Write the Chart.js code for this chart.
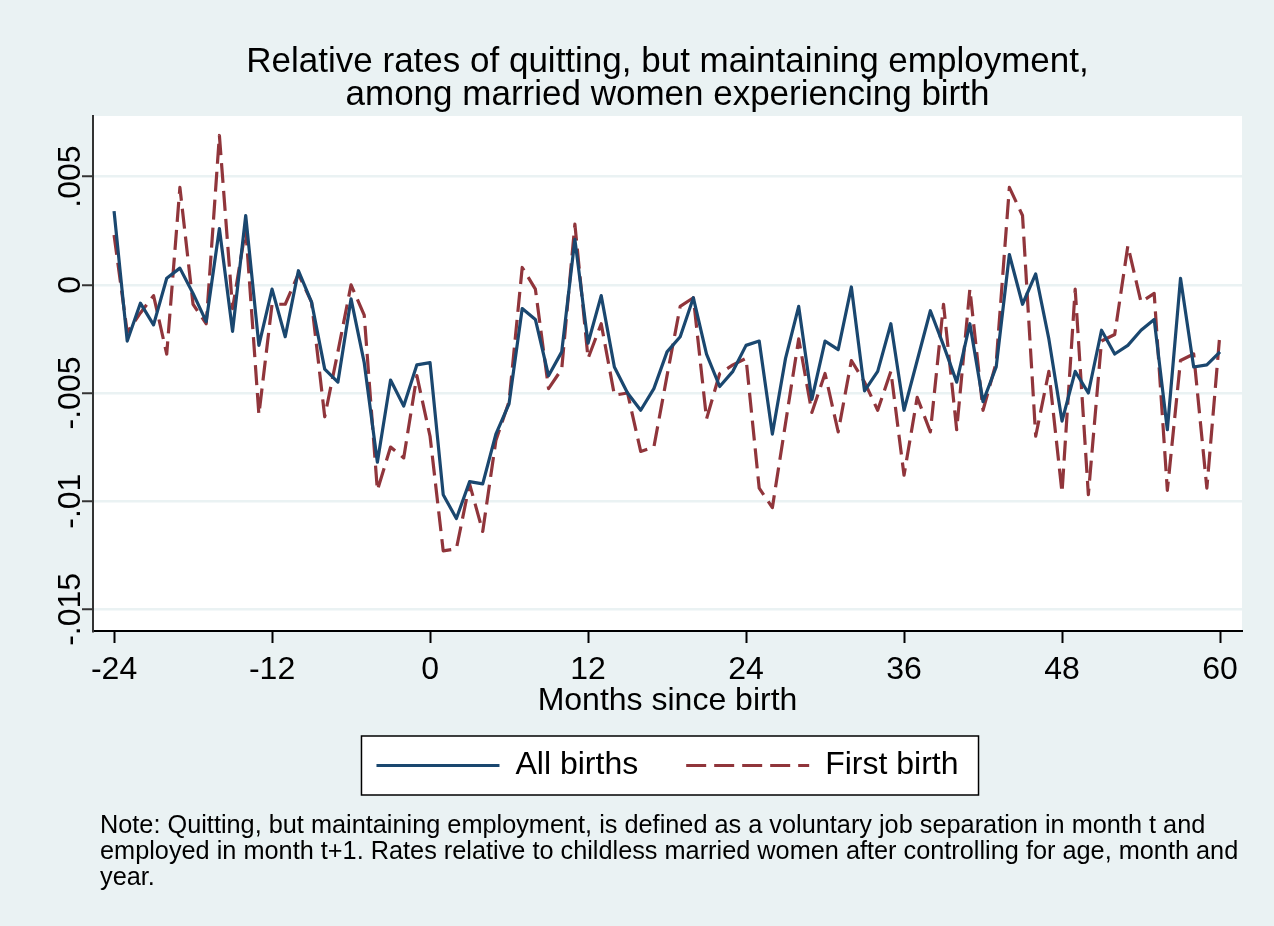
<!DOCTYPE html>
<html>
<head>
<meta charset="utf-8">
<script src="https://cdn.jsdelivr.net/npm/chart.js@4.4.1/dist/chart.umd.min.js"></script>
<style>
html,body{margin:0;padding:0;background:#EAF2F3;}
#wrap{width:1274px;height:926px;position:relative;}
canvas{display:block;}
</style>
</head>
<body>
<div id="wrap"><canvas id="c" width="1274" height="926"></canvas></div>
<script>
// ---- data ----
const months = [-24,-23,-22,-21,-20,-19,-18,-17,-16,-15,-14,-13,-12,-11,-10,-9,-8,-7,-6,-5,-4,-3,-2,-1,
  0,1,2,3,4,5,6,7,8,9,10,11,12,13,14,15,16,17,18,19,20,21,22,23,24,25,26,27,28,29,30,31,32,33,34,35,36,
  37,38,39,40,41,42,43,44,45,46,47,48,49,50,51,52,53,54,55,56,57,58,59,60];

const allBirths = [0.0034,-0.0026,-0.00085,-0.00185,0.0003,0.00077,-0.0004,-0.0017,0.0026,-0.00215,
  0.0032,-0.0028,-0.0002,-0.0024,0.00065,-0.0008,-0.0039,-0.0045,-0.00065,-0.0036,-0.0082,-0.0044,
  -0.0056,-0.0037,-0.0036,-0.0097,-0.0108,-0.0091,-0.0092,-0.0069,-0.0055,-0.0011,-0.0016,-0.0042,
  -0.0031,0.0021,-0.0027,-0.0005,-0.0038,-0.005,-0.0058,-0.0048,-0.0031,-0.0024,-0.0006,-0.0032,
  -0.0047,-0.004,-0.0028,-0.0026,-0.0069,-0.0034,-0.001,-0.0053,-0.0026,-0.003,-0.0001,-0.0049,
  -0.004,-0.0018,-0.0058,-0.0035,-0.0012,-0.0028,-0.0045,-0.0018,-0.0054,-0.0038,0.0014,-0.0009,
  0.0005,-0.0025,-0.0063,-0.004,-0.005,-0.0021,-0.0032,-0.0028,-0.0021,-0.0016,-0.0067,0.0003,
  -0.0038,-0.0037,-0.0031];

const firstBirth = [0.0023,-0.0022,-0.0013,-0.0005,-0.0032,0.0045,-0.0009,-0.0018,0.0069,-0.0011,
  0.0026,-0.006,-0.0009,-0.0009,0.0005,-0.0008,-0.0061,-0.0031,0.0,-0.0014,-0.0095,-0.0075,
  -0.008,-0.0042,-0.007,-0.0123,-0.0122,-0.0092,-0.0114,-0.0072,-0.0054,0.0008,-0.0002,-0.0048,
  -0.0039,0.0028,-0.0034,-0.0018,-0.0051,-0.005,-0.0077,-0.0075,-0.0042,-0.001,-0.0006,-0.0062,
  -0.0041,-0.0037,-0.0034,-0.0094,-0.0103,-0.0064,-0.0025,-0.0059,-0.0041,-0.0068,-0.0035,-0.0045,
  -0.0058,-0.004,-0.0088,-0.0052,-0.0068,-0.0009,-0.0067,-0.0002,-0.0058,-0.0036,0.0045,0.0032,
  -0.007,-0.004,-0.0096,-0.0002,-0.0097,-0.0026,-0.0023,0.0018,-0.0008,-0.0004,-0.0095,-0.0035,
  -0.0032,-0.0094,-0.0022];

const seriesNames = ['All births', 'First birth'];
const xTickValues = [-24,-12,0,12,24,36,48,60];
const xTickLabels = ['-24','-12','0','12','24','36','48','60'];
const yTickValues = [0.005,0,-0.005,-0.01,-0.015];
const yTickLabels = ['.005','0','-.005','-.01','-.015'];
const titleLines = ['Relative rates of quitting, but maintaining employment,', 'among married women experiencing birth'];
const xTitle = 'Months since birth';
const noteLines = [
  'Note: Quitting, but maintaining employment, is defined as a voluntary job separation in month t and',
  'employed in month t+1. Rates relative to childless married women after controlling for age, month and',
  'year.'
];

// ---- styles ----
const FONT = '"Liberation Sans", Arial, Helvetica, sans-serif';
const BG = '#EAF2F3';
const BLUE = '#1A476F';
const RED = '#90353B';

const bgPlugin = {
  id: 'bgPlugin',
  beforeDraw(chart) {
    const {ctx, chartArea: a} = chart;
    ctx.save();
    ctx.fillStyle = BG;
    ctx.fillRect(0, 0, chart.width, chart.height);
    ctx.fillStyle = '#FFFFFF';
    ctx.fillRect(a.left, a.top, a.right - a.left, a.bottom - a.top);
    // legend frame
    const hb = chart.legend && chart.legend.legendHitBoxes;
    if (hb && hb.length) {
      const first = hb[0], last = hb[hb.length - 1];
      const l = first.left - 15, t = first.top - 13.5;
      const r = last.left + last.width + 20, b = first.top + first.height + 13.5;
      ctx.fillStyle = '#FFFFFF';
      ctx.fillRect(l, t, r - l, b - t);
      ctx.strokeStyle = '#000000';
      ctx.lineWidth = 1.5;
      ctx.strokeRect(l, t, r - l, b - t);
    }
    ctx.restore();
  }
};

const textPlugin = {
  id: 'textPlugin',
  afterDraw(chart) {
    const {ctx} = chart;
    const ys = chart.scales.y;
    ctx.save();
    ctx.fillStyle = '#000000';
    ctx.font = '32px ' + FONT;
    ctx.textAlign = 'center';
    ctx.textBaseline = 'alphabetic';
    yTickValues.forEach((v, i) => {
      const py = ys.getPixelForValue(v);
      ctx.save();
      ctx.translate(80, py);
      ctx.rotate(-Math.PI / 2);
      ctx.fillText(yTickLabels[i], 0, 0);
      ctx.restore();
    });
    ctx.font = '25.3px ' + FONT;
    ctx.textAlign = 'left';
    const base = [833, 859, 885];
    noteLines.forEach((line, i) => ctx.fillText(line, 100, base[i]));
    ctx.restore();
  }
};

const ctx = document.getElementById('c').getContext('2d');
new Chart(ctx, {
  type: 'line',
  data: {
    datasets: [
      {
        label: seriesNames[0],
        data: months.map((m, i) => ({x: m, y: allBirths[i]})),
        borderColor: BLUE,
        backgroundColor: BLUE,
        borderWidth: 3.2,
        pointRadius: 0,
        tension: 0,
        borderJoinStyle: 'round',
        fill: false
      },
      {
        label: seriesNames[1],
        data: months.map((m, i) => ({x: m, y: firstBirth[i]})),
        borderColor: RED,
        backgroundColor: RED,
        borderWidth: 3.2,
        borderDash: [20, 8],
        pointRadius: 0,
        tension: 0,
        borderJoinStyle: 'round',
        fill: false
      }
    ]
  },
  options: {
    responsive: false,
    animation: false,
    devicePixelRatio: 1,
    layout: {padding: {top: 0, right: 32, bottom: 134.5, left: 0}},
    plugins: {
      title: {
        display: true,
        text: titleLines,
        color: '#000000',
        fullSize: false,
        font: {family: FONT, size: 35, weight: 'normal', lineHeight: 33 / 35},
        padding: {top: 46, bottom: 4}
      },
      legend: {
        display: true,
        position: 'bottom',
        fullSize: false,
        labels: {
          color: '#000000',
          font: {family: FONT, size: 32, weight: 'normal'},
          usePointStyle: true,
          pointStyle: 'line',
          pointStyleWidth: 123,
          padding: 48,
          generateLabels: chart => {
            const items = Chart.defaults.plugins.legend.labels.generateLabels(chart);
            items.forEach(it => {
              const ds = chart.data.datasets[it.datasetIndex];
              it.lineDash = ds.borderDash || [];
              it.lineWidth = ds.borderWidth;
              it.strokeStyle = ds.borderColor;
              it.fillStyle = ds.borderColor;
              it.pointStyle = 'line';
            });
            return items;
          }
        }
      },
      tooltip: {enabled: false}
    },
    scales: {
      x: {
        type: 'linear',
        min: -25.6,
        max: 61.67,
        afterBuildTicks: s => { s.ticks = xTickValues.map(v => ({value: v})); },
        afterFit: s => { s.height = 70.5; },
        ticks: {
          callback: v => xTickLabels[xTickValues.indexOf(v)],
          color: '#000000',
          font: {family: FONT, size: 32, lineHeight: 1.2},
          padding: 8,
          maxRotation: 0,
          autoSkip: false
        },
        grid: {drawOnChartArea: false, drawTicks: true, tickLength: 12, tickWidth: 2, tickColor: '#000000'},
        border: {display: true, color: '#000000', width: 2},
        title: {
          display: true,
          text: xTitle,
          color: '#000000',
          font: {family: FONT, size: 32, lineHeight: 1},
          padding: {top: 0, bottom: -16}
        }
      },
      y: {
        type: 'linear',
        min: -0.016,
        max: 0.0078,
        afterBuildTicks: s => { s.ticks = yTickValues.map(v => ({value: v})); },
        afterFit: s => { s.width = 93; },
        ticks: {display: false},
        grid: {
          color: BG,
          lineWidth: 2.5,
          drawOnChartArea: true,
          drawTicks: true,
          tickLength: 11,
          tickWidth: 2,
          tickColor: '#333333'
        },
        border: {display: true, color: '#333333', width: 2}
      }
    }
  },
  plugins: [bgPlugin, textPlugin]
});
</script>
</body>
</html>
